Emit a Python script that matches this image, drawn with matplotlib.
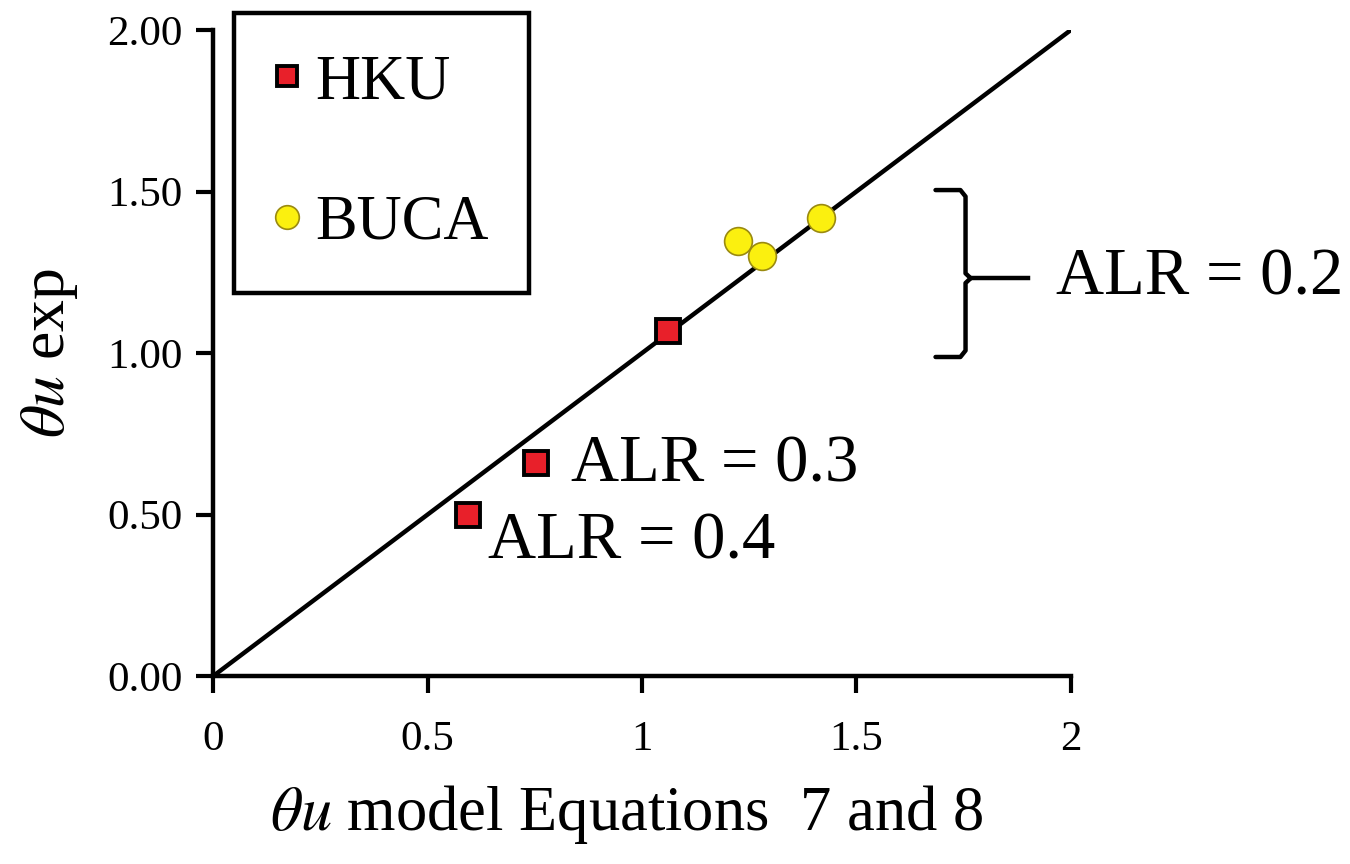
import numpy as np
import matplotlib
matplotlib.use('Agg')
import matplotlib.pyplot as plt

plt.rcParams['font.family'] = ['Liberation Serif', 'DejaVu Serif']
plt.rcParams['mathtext.fontset'] = 'stix'

# data
hku_x = [0.595, 0.754, 1.062]
hku_y = [0.50, 0.66, 1.068]
buca_x = [1.223, 1.279, 1.417]
buca_y = [1.347, 1.300, 1.418]
alr_labels = ['ALR = 0.4', 'ALR = 0.3']
xticks = [0, 0.5, 1, 1.5, 2]
xticklabels = ['0', '0.5', '1', '1.5', '2']
yticks = [0, 0.5, 1.0, 1.5, 2.0]
yticklabels = ['0.00', '0.50', '1.00', '1.50', '2.00']

fig = plt.figure(figsize=(13.5, 8.64), dpi=100)
ax = fig.add_axes([0.158, 0.2176, 0.635, 0.7474])

# 1:1 line
ax.plot([0, 2], [0, 2], color='black', lw=3.2, zorder=2)

ax.plot(hku_x, hku_y, ls='none', marker='s', ms=17, mfc='#e8202a', mec='black',
        mew=2.8, label='HKU', zorder=3)
ax.plot(buca_x, buca_y, ls='none', marker='o', ms=20, mfc='#fbf00f', mec='#9a8a10',
        mew=1.2, label='BUCA', zorder=3)

# annotations
ax.text(0.64, 0.415, alr_labels[0], fontsize=48, ha='left', va='center')
ax.text(0.835, 0.655, alr_labels[1], fontsize=48, ha='left', va='center')

# brace for ALR = 0.2
bx0, bx1, bx2 = 1.685, 1.755, 1.90
ytop, ybot, ymid = 1.505, 0.988, 1.232
ax.plot([bx0, bx1 - 0.012, bx1, bx1, bx1 + 0.012], [ytop, ytop, ytop - 0.02, ymid + 0.015, ymid],
        color='black', lw=3.2, solid_capstyle='round', clip_on=False)
ax.plot([bx0, bx1 - 0.012, bx1, bx1, bx1 + 0.012], [ybot, ybot, ybot + 0.02, ymid - 0.015, ymid],
        color='black', lw=3.2, solid_capstyle='round', clip_on=False)
ax.plot([bx1 + 0.012, bx2], [ymid, ymid], color='black', lw=3.2, clip_on=False)
ax.text(1.965, 1.232, 'ALR = 0.2', fontsize=48, ha='left', va='center', clip_on=False)

ax.set_xlim(0, 2)
ax.set_ylim(0, 2)
ax.set_xticks(xticks)
ax.set_xticklabels(xticklabels)
ax.set_yticks(yticks)
ax.set_yticklabels(yticklabels)
ax.tick_params(axis='both', labelsize=31, width=3, length=12, direction='out')
ax.tick_params(axis='x', pad=20)
ax.tick_params(axis='y', pad=10)

for s in ['top', 'right']:
    ax.spines[s].set_visible(False)
for s in ['left', 'bottom']:
    ax.spines[s].set_linewidth(3.2)

ax.set_xlabel(r'$\theta u$ model Equations  7 and 8', fontsize=45, labelpad=18)
ax.set_ylabel(r'$\theta u$ exp', fontsize=46, labelpad=20)
ax.xaxis.set_label_coords(0.482, -0.165)

leg = ax.legend(loc='upper left', bbox_to_anchor=(0.024, 1.026), fontsize=45,
                frameon=True, fancybox=False, edgecolor='black', framealpha=1,
                borderpad=0.65, labelspacing=1.32, handlelength=0.4,
                handletextpad=0.25, borderaxespad=0)
leg.get_frame().set_linewidth(3.2)
leg.legend_handles[0].set_markersize(15)
leg.legend_handles[1].set_markersize(17)

fig.savefig('out.png', dpi=100)
